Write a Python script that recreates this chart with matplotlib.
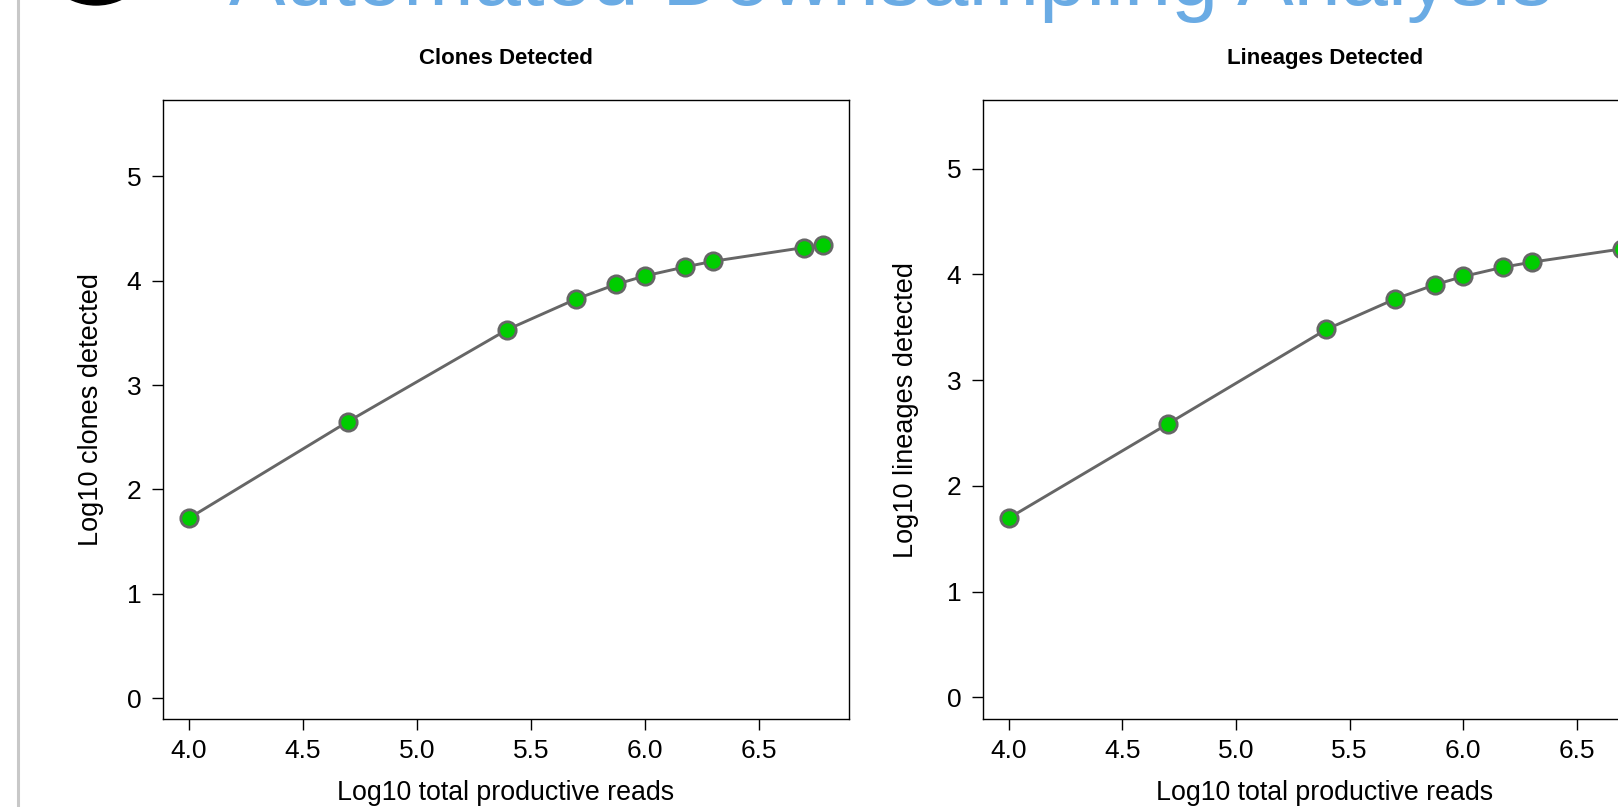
import matplotlib
matplotlib.use("Agg")
import matplotlib.pyplot as plt
from matplotlib.patches import Ellipse
from matplotlib.lines import Line2D

# ---- data ----
log10_reads = [4.0, 4.699, 5.398, 5.699, 5.875, 6.0, 6.176, 6.301, 6.699, 6.78]
log10_clones = [1.724, 2.651, 3.532, 3.824, 3.965, 4.045, 4.131, 4.186, 4.317, 4.346]
log10_lineages = [1.695, 2.585, 3.481, 3.767, 3.903, 3.981, 4.069, 4.116, 4.242, 4.27]
x_ticks = [4.0, 4.5, 5.0, 5.5, 6.0, 6.5]
y_ticks = [0, 1, 2, 3, 4, 5]
panel_titles = ["Clones Detected", "Lineages Detected"]
y_labels = ["Log10 clones detected", "Log10 lineages detected"]
x_label = "Log10 total productive reads"
page_title = "Automated Downsampling Analysis"

W, H = 1618, 807
plt.rcParams['font.family'] = ['Liberation Sans', 'DejaVu Sans']
fig = plt.figure(figsize=(W / 100, H / 100), dpi=100)

def px_axes(left, top, right, bottom):
    return [left / W, 1 - bottom / H, (right - left) / W, (bottom - top) / H]

ax1 = fig.add_axes(px_axes(163, 100, 849, 719))
ax2 = fig.add_axes(px_axes(983, 100, 1667, 719))

series = [log10_clones, log10_lineages]
ylims = [(-0.198, 5.73), (-0.205, 5.65)]
ylab_x = [91, 906]

for ax, ys, yl, title, ylab, lx in zip([ax1, ax2], series, ylims, panel_titles, y_labels, ylab_x):
    ax.plot(log10_reads, ys, color='#666666', lw=2.1, marker='o', ms=12.5,
            mfc='#00cd00', mec='#666666', mew=2.0, clip_on=False, zorder=3)
    ax.set_xlim(3.887, 6.896)
    ax.set_ylim(*yl)
    ax.set_xticks(x_ticks)
    ax.set_xticklabels([f"{t:.1f}" for t in x_ticks])
    ax.set_yticks(y_ticks)
    ax.set_yticklabels([str(t) for t in y_ticks])
    ax.tick_params(direction='out', length=7.7, width=1.0, labelsize=19, colors='black')
    ax.tick_params(axis='x', pad=7)
    ax.tick_params(axis='y', pad=8)
    for s in ax.spines.values():
        s.set_linewidth(1.0)
        s.set_color('black')
    bb = ax.get_position()
    cx = bb.x0 + bb.width / 2
    fig.text(cx, 1 - 64 / H, title, ha='center', va='baseline', fontsize=16, fontweight='bold')
    fig.text(cx, 1 - 800.5 / H, x_label, ha='center', va='baseline', fontsize=19.3)
    fig.text(lx / W, 1 - 410 / H, ylab, ha='center', va='center', rotation=90, fontsize=19.5)

# page decorations (screenshot context)
fig.add_artist(Line2D([18 / W, 18 / W], [0, 1], transform=fig.transFigure, color='#c8c8c8', lw=2.2))
fig.add_artist(Ellipse((96 / W, 1 + 55 / H), 120 / W, 120 / H, transform=fig.transFigure,
                       color='black', zorder=5))

t = fig.text(891 / W, 1 - 5 / H, page_title, ha='center', va='baseline',
             fontsize=60, color='#6aabe4', family=['Liberation Sans', 'DejaVu Sans'])
fig.canvas.draw()
w = t.get_window_extent().width
t.set_fontsize(60 * 1324 / w)

fig.savefig("out.png", dpi=100)
